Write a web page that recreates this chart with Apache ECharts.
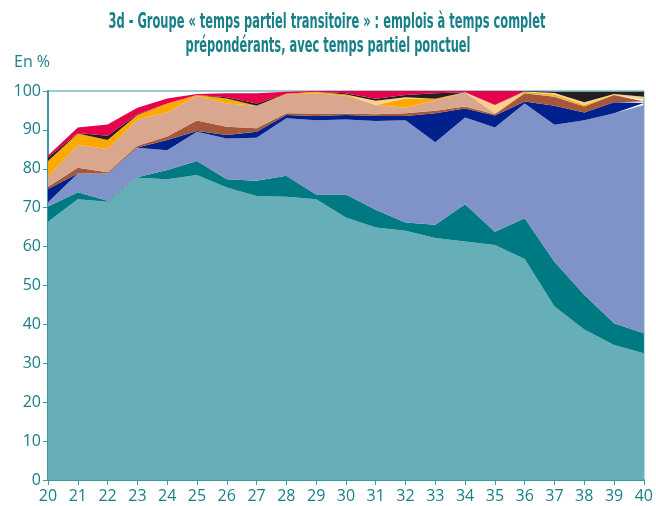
<!DOCTYPE html>
<html><head><meta charset="utf-8">
<script src="https://cdn.jsdelivr.net/npm/echarts@6/dist/echarts.min.js"></script>
<style>html,body{margin:0;padding:0;background:#fff}#c{width:656px;height:506px}</style>
</head><body><div id="c"></div>
<script>
const ages = ['20','21','22','23','24','25','26','27','28','29','30','31','32','33','34','35','36','37','38','39','40'];
const seriesNames = ['s1','s2','s3','s4','s5','s6','s7','s8','s9','s10'];
const s1 = [66.4,72.2,71.5,77.7,77.3,78.4,75.2,73.0,72.8,72.2,67.5,64.9,64.1,62.2,61.3,60.4,56.8,44.6,38.7,34.7,32.6];
const s2 = [3.9,1.8,0.3,0.1,2.4,3.6,2.1,3.9,5.4,1.2,5.9,4.6,2.1,3.4,9.6,3.4,10.5,11.5,8.9,5.6,5.1];
const s3 = [1.1,4.8,7.0,7.6,5.1,7.5,10.5,11.1,14.8,19.1,19.3,22.8,26.3,21.2,22.3,26.8,29.5,35.2,44.9,54.0,58.7];
const s4 = [3.4,0,0,0.1,2.6,0.2,0.9,1.5,0.8,1.1,1.1,1.3,1.1,7.5,2.3,3.1,0.5,4.9,2.0,2.8,0.5];
const s5 = [0.6,1.5,0.3,0.4,0.9,2.7,2.1,0.9,0.5,0.6,0.4,0.4,0.7,0.6,0.5,0.3,2.1,2.3,1.5,1.9,0.4];
const s6 = [2.6,5.8,6.0,6.8,6.2,6.4,6.0,5.8,4.8,5.2,4.6,2.4,1.4,2.7,3.6,0.3,0.1,0.2,0,0,0.4];
const s7 = [4.0,3.0,2.3,1.1,2.3,0.2,1.3,0,0.2,0.4,0.3,0,2.4,0.4,0,0,0.3,0.4,0.4,0.1,0];
const s8 = [0,0,0,0,0,0,0,0,0,0,0,1.1,0.3,0,0.1,2.1,0.1,0.4,0.7,0.1,0.8];
const s9 = [0.9,0.1,1.1,0.2,0,0,0.3,0.6,0,0,0.3,0.5,0.6,1.4,0,0,0.1,0.3,2.7,0.6,1.3];
const s10 = [0.5,1.4,2.9,1.7,1.3,0.2,1.0,2.6,0.5,0.2,0.6,2.0,1.0,0.6,0.3,3.6,0,0,0,0,0];
const yTicks = [0,10,20,30,40,50,60,70,80,90,100];
const titleLine1 = '3d - Groupe « temps partiel transitoire » : emplois à temps complet';
const titleLine2 = 'prépondérants, avec temps partiel ponctuel';

const values = [s1,s2,s3,s4,s5,s6,s7,s8,s9,s10];
const colors = ['#66AFB8','#007A82','#8093C8','#00218C','#A5573A','#D9A78E','#FFA800','#FFD08C','#231F20','#E8004C'];
const teal = '#1A8088';
const axisCol = '#3A9AA2';
const font = "'Open Sans', 'Noto Sans', sans-serif";
const titleFont = "bold 21px 'DejaVu Sans Condensed', 'Liberation Sans Narrow', 'Roboto', sans-serif";

// horizontal condensing factor for title so line 1 spans ~437px
const mctx = document.createElement('canvas').getContext('2d');
mctx.font = titleFont;
const w1 = mctx.measureText(titleLine1).width;
const sx = 437 / w1;

const chart = echarts.init(document.getElementById('c'), null, {renderer:'canvas'});
chart.setOption({
  animation:false,
  backgroundColor:'#fff',
  graphic:[
    {type:'text', x:327, y:23, scaleX:sx, style:{text:titleLine1, fill:teal, font:titleFont, textAlign:'center', textVerticalAlign:'middle'}},
    {type:'text', x:328, y:47, scaleX:sx, style:{text:titleLine2, fill:teal, font:titleFont, textAlign:'center', textVerticalAlign:'middle'}},
    {type:'text', x:14, y:62, style:{text:'En %', fill:teal, font:"16px 'Open Sans', sans-serif", textVerticalAlign:'middle'}}
  ],
  grid:{left:48, right:11, top:91, bottom:26, show:true, borderColor:axisCol, borderWidth:1, backgroundColor:'transparent'},
  xAxis:{
    type:'category', data:ages, boundaryGap:false,
    axisLine:{lineStyle:{color:axisCol, width:2}},
    axisTick:{show:true, length:5, lineStyle:{color:axisCol}},
    axisLabel:{color:teal, fontSize:16, fontFamily:font, margin:8, interval:0},
    splitLine:{show:false}
  },
  yAxis:{
    type:'value', min:0, max:100, interval:10,
    axisLine:{show:true, lineStyle:{color:axisCol, width:2}},
    axisTick:{show:true, length:5, lineStyle:{color:axisCol}},
    axisLabel:{color:teal, fontSize:16, fontFamily:font, margin:7,
      formatter:(v)=> yTicks.includes(v) ? String(v) : ''},
    splitLine:{show:false}
  },
  series: values.map((d,i)=>({
    name:seriesNames[i], type:'line', stack:'total', data:d,
    symbol:'none', smooth:false,
    lineStyle:{width:0},
    areaStyle:{color:colors[i], opacity:1},
    itemStyle:{color:colors[i]},
    z: 2
  }))
});
</script>
</body></html>
